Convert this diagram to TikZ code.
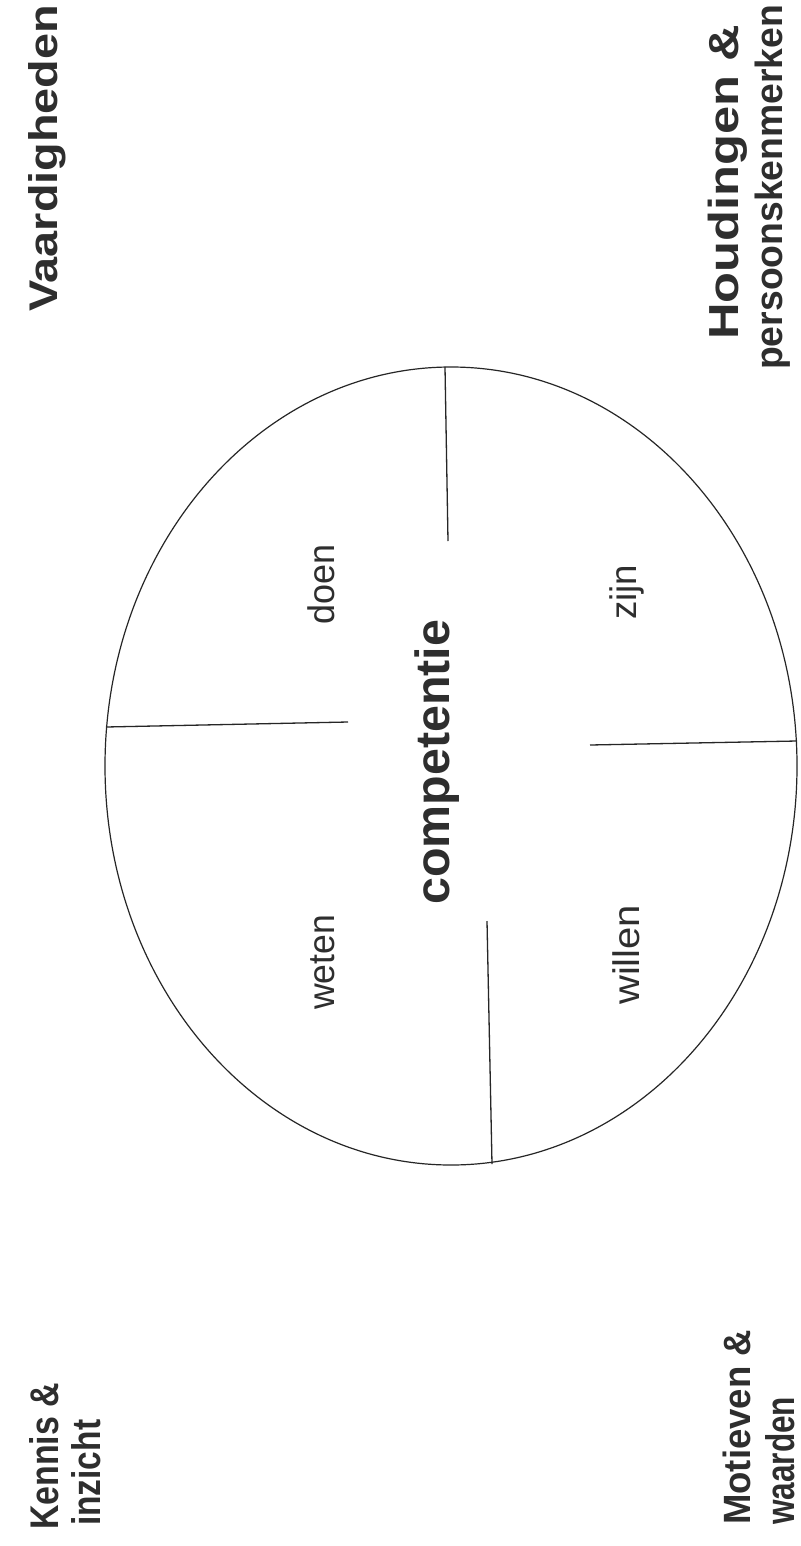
\documentclass[tikz,border=0pt]{standalone}
\usepackage{fontspec}
\setmainfont{Liberation Sans}
\usepackage{graphicx}
\definecolor{ink}{HTML}{2E2E2E}
\newcommand{\mylbl}[3]{\resizebox{#2pt}{\height}{\fontsize{#1}{#1}\selectfont #3}}
\begin{document}
\begin{tikzpicture}[x=1pt,y=-1pt,
  lbl/.style={rotate=90,anchor=base west,inner sep=0pt,text=ink,font=\bfseries},
  inlbl/.style={rotate=90,anchor=base west,inner sep=0pt,text=ink},
  divider/.style={line width=1.3pt,draw=black!85}]
\useasboundingbox[fill=white] (0,0) rectangle (800,1546);
% ellipse
\draw[line width=1.2pt,draw=black!85] (451,766) ellipse [x radius=346pt, y radius=399pt];
% dividers
\coordinate (t1) at (445,367); \coordinate (t2) at (448,541);
\coordinate (l1) at (106,727); \coordinate (l2) at (348,722);
\coordinate (r1) at (590,745); \coordinate (r2) at (797,741);
\coordinate (b1) at (487,921); \coordinate (b2) at (492,1164);
\draw[divider] (t1) -- (t2);
\draw[divider] (l1) -- (l2);
\draw[divider] (r1) -- (r2);
\draw[divider] (b1) -- (b2);
% centre
\node[lbl] (comp) at (449,905) {\mylbl{48}{285}{competentie}};
% inner labels
\node[inlbl] (doen) at (334,625) {\mylbl{37}{80}{doen}};
\node[inlbl] (weten) at (334,1010) {\mylbl{37}{95}{weten}};
\node[inlbl] (zijn) at (636,620) {\mylbl{37}{55}{zijn}};
\node[inlbl] (willen) at (639,1005) {\mylbl{37}{100}{willen}};
% outer labels
\node[lbl] (vaard) at (57,312) {\mylbl{40}{307}{Vaardigheden}};
\node[lbl] (houd) at (738,340) {\mylbl{42}{315}{Houdingen \&}};
\node[lbl] (pers) at (782,370) {\mylbl{38}{365}{persoonskenmerken}};
\node[lbl] (kennis) at (58,1530) {\mylbl{40}{147}{Kennis \&}};
\node[lbl] (inzicht) at (100,1526) {\mylbl{40}{106}{inzicht}};
\node[lbl] (motief) at (750,1525) {\mylbl{38}{195}{Motieven \&}};
\node[lbl] (waard) at (794,1525) {\mylbl{40}{128}{waarden}};
\end{tikzpicture}
\end{document}
